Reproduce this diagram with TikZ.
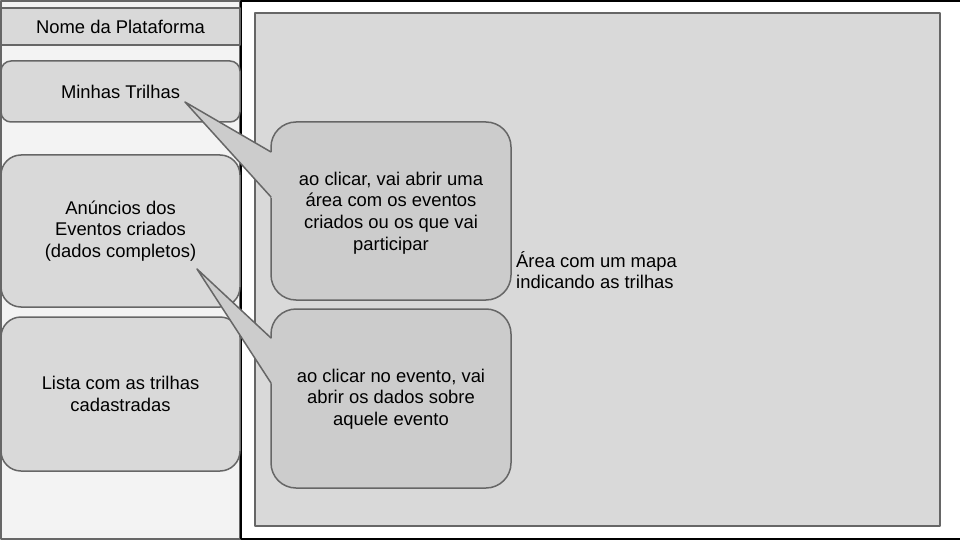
\documentclass[tikz,border=0pt]{standalone}
\usepackage{fontspec}
\setmainfont{Liberation Sans}
\definecolor{strk}{HTML}{666666}
\definecolor{boxc}{HTML}{D9D9D9}
\definecolor{callc}{HTML}{CCCCCC}
\definecolor{sidec}{HTML}{F3F3F3}
\begin{document}
\begin{tikzpicture}[x=1pt,y=-1pt,line join=round,
  box/.style={fill=boxc,draw=strk,line width=1.5pt,inner sep=0pt,
    font=\fontsize{18.4}{21.6}\selectfont,align=center,text=black},
  callbox/.style={fill=callc,draw=strk,line width=1.5pt},
  txt/.style={font=\fontsize{18.4}{21.6}\selectfont,align=center,text=black,inner sep=0pt}]
\useasboundingbox (0,0) rectangle (960,540);
\fill[white] (0,0) rectangle (960,540);
% sidebar
\draw[fill=sidec,draw=strk,line width=1.5pt] (0.75,1) rectangle (240,539);
% outer frame
\draw[black,line width=2pt] (241,1) rectangle (961,539);
% map area
\node[box,minimum width=685,minimum height=513] (map) at (597.5,269.5) {};
\node[txt,anchor=west,align=left] (maplbl) at (516,270) {Área com um mapa\\indicando as trilhas};
% sidebar boxes
\node[box,minimum width=239,minimum height=37] (nome) at (120.5,26.5) {Nome da Plataforma};
\node[box,rounded corners=10,minimum width=239,minimum height=61] (minhas) at (120.5,91.5) {Minhas Trilhas};
\node[box,rounded corners=20,minimum width=239,minimum height=152] (anuncios) at (120.5,231) {Anúncios dos\\Eventos criados\\(dados completos)};
\node[box,rounded corners=20,minimum width=239,minimum height=154] (lista) at (120.5,394) {Lista com as trilhas\\cadastradas};
% callout 1
\coordinate (tipA) at (185,102);
\coordinate (a1) at (271,152);
\coordinate (a2) at (271,197);
\draw[callbox,rounded corners=25] (271,122) rectangle (511,300);
\fill[callc] (tipA) -- (273,153.2) -- (273,199.2) -- cycle;
\draw[strk,line width=1.5pt] (a1) -- (tipA) -- (a2);
\node[txt] (callA) at (391,213) {ao clicar, vai abrir uma\\área com os eventos\\criados ou os que vai\\participar};
% callout 2
\coordinate (tipB) at (197,269);
\coordinate (b1) at (271,338);
\coordinate (b2) at (271,383);
\draw[callbox,rounded corners=25] (271,309) rectangle (511,488);
\fill[callc] (tipB) -- (273,339.9) -- (273,385.3) -- cycle;
\draw[strk,line width=1.5pt] (b1) -- (tipB) -- (b2);
\node[txt] (callB) at (391,399) {ao clicar no evento, vai\\abrir os dados sobre\\aquele evento};
\end{tikzpicture}
\end{document}
